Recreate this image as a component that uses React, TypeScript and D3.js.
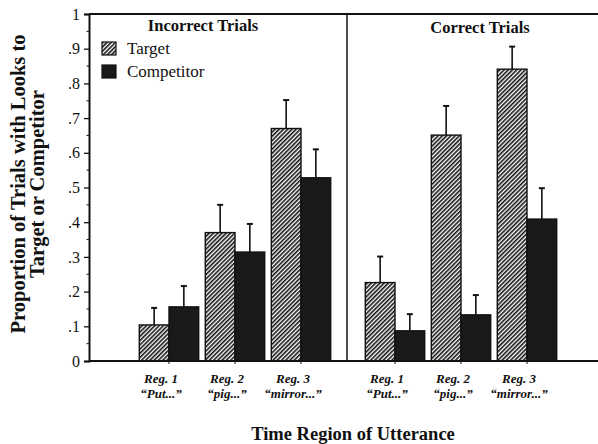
import { useEffect, useRef } from "react";
import * as d3 from "d3";

const regions = ["Reg. 1", "Reg. 2", "Reg. 3"];
const cues = ["\u201cPut...\u201d", "\u201cpig...\u201d", "\u201cmirror...\u201d"];
const panels = ["Incorrect Trials", "Correct Trials"];
const seriesNames = ["Target", "Competitor"];

const incorrectTarget = [0.104, 0.37, 0.67];
const incorrectTargetErr = [0.049, 0.08, 0.082];
const incorrectCompetitor = [0.156, 0.314, 0.528];
const incorrectCompetitorErr = [0.06, 0.081, 0.082];
const correctTarget = [0.226, 0.651, 0.841];
const correctTargetErr = [0.075, 0.084, 0.065];
const correctCompetitor = [0.087, 0.133, 0.409];
const correctCompetitorErr = [0.048, 0.057, 0.089];

const yTicks = [0, 0.1, 0.2, 0.3, 0.4, 0.5, 0.6, 0.7, 0.8, 0.9, 1];

const W = 598;
const H = 444;
const FONT = "'Liberation Serif', 'Times New Roman', serif";

export default function App() {
  const svgRef = useRef<SVGSVGElement>(null);

  useEffect(() => {
    if (!svgRef.current) return;
    const svg = d3.select(svgRef.current);
    svg.selectAll("*").remove();

    const top = 14;
    const bottom = 361;
    const left = 89;
    const divider = 347;

    const y = d3.scaleLinear().domain([0, 1]).range([bottom, top]);

    // hatch pattern for Target
    const defs = svg.append("defs");
    const pat = defs
      .append("pattern")
      .attr("id", "hatch")
      .attr("patternUnits", "userSpaceOnUse")
      .attr("width", 3)
      .attr("height", 3)
      .attr("patternTransform", "rotate(45)");
    pat.append("rect").attr("width", 3).attr("height", 3).attr("fill", "#fff");
    pat
      .append("line")
      .attr("x1", 0.8)
      .attr("y1", 0)
      .attr("x2", 0.8)
      .attr("y2", 3)
      .attr("stroke", "#111")
      .attr("stroke-width", 1.6);

    const panelData = [
      {
        title: panels[0],
        range: [136, 334] as [number, number],
        titleX: 203,
        titleY: 31,
        values: [incorrectTarget, incorrectCompetitor],
        errs: [incorrectTargetErr, incorrectCompetitorErr],
      },
      {
        title: panels[1],
        range: [362, 560] as [number, number],
        titleX: 480,
        titleY: 33,
        values: [correctTarget, correctCompetitor],
        errs: [correctTargetErr, correctCompetitorErr],
      },
    ];

    panelData.forEach((p) => {
      const x0 = d3.scaleBand<string>().domain(regions).range(p.range).paddingInner(0.1).paddingOuter(0.05);
      const x1 = d3.scaleBand<string>().domain(seriesNames).range([0, x0.bandwidth()]);

      regions.forEach((r, i) => {
        seriesNames.forEach((s, si) => {
          const v = p.values[si][i];
          const e = p.errs[si][i];
          const bx = x0(r)! + x1(s)!;
          const cx = bx + x1.bandwidth() / 2;
          // error bar (upper only)
          svg
            .append("line")
            .attr("x1", cx)
            .attr("x2", cx)
            .attr("y1", y(v))
            .attr("y2", y(v + e))
            .attr("stroke", "#111")
            .attr("stroke-width", 1.6);
          svg
            .append("line")
            .attr("x1", cx - 3)
            .attr("x2", cx + 3)
            .attr("y1", y(v + e))
            .attr("y2", y(v + e))
            .attr("stroke", "#111")
            .attr("stroke-width", 2);
          svg
            .append("rect")
            .attr("x", bx)
            .attr("y", y(v))
            .attr("width", x1.bandwidth())
            .attr("height", y(0) - y(v))
            .attr("fill", si === 0 ? "url(#hatch)" : "#1a1a1a")
            .attr("stroke", "#111")
            .attr("stroke-width", 1.4);
        });

        const gc = x0(r)! + x0.bandwidth() / 2;
        // small tick below baseline
        svg
          .append("line")
          .attr("x1", gc)
          .attr("x2", gc)
          .attr("y1", bottom)
          .attr("y2", bottom + 3)
          .attr("stroke", "#111")
          .attr("stroke-width", 1);

        svg
          .append("text")
          .attr("x", gc - 8)
          .attr("y", 383)
          .attr("text-anchor", "middle")
          .attr("font-family", FONT)
          .attr("font-style", "italic")
          .attr("font-weight", "bold")
          .attr("font-size", 13)
          .attr("fill", "#111")
          .text(r);
        svg
          .append("text")
          .attr("x", gc - 8)
          .attr("y", 398)
          .attr("text-anchor", "middle")
          .attr("font-family", FONT)
          .attr("font-style", "italic")
          .attr("font-weight", "bold")
          .attr("font-size", 13)
          .attr("fill", "#111")
          .text(cues[i]);
      });

      svg
        .append("text")
        .attr("x", p.titleX)
        .attr("y", p.titleY)
        .attr("text-anchor", "middle")
        .attr("font-family", FONT)
        .attr("font-weight", "bold")
        .attr("font-size", 16.5)
        .attr("fill", "#111")
        .text(p.title);
    });

    // frame: top line, baseline, divider
    svg
      .append("line")
      .attr("x1", left)
      .attr("x2", W)
      .attr("y1", top)
      .attr("y2", top)
      .attr("stroke", "#111")
      .attr("stroke-width", 2);
    svg
      .append("line")
      .attr("x1", left)
      .attr("x2", W)
      .attr("y1", bottom)
      .attr("y2", bottom)
      .attr("stroke", "#111")
      .attr("stroke-width", 2);
    svg
      .append("line")
      .attr("x1", divider)
      .attr("x2", divider)
      .attr("y1", top)
      .attr("y2", bottom)
      .attr("stroke", "#111")
      .attr("stroke-width", 1.5);

    // y axis
    const axis = svg
      .append("g")
      .attr("transform", `translate(${left},0)`)
      .call(
        d3
          .axisLeft(y)
          .tickValues(yTicks)
          .tickSize(5)
          .tickPadding(4)
          .tickFormat((d) => {
            const v = +d;
            if (v === 0) return "0";
            if (v === 1) return "1";
            return "." + Math.round(v * 10);
          })
      );
    axis.attr("font-family", null);
    axis.select(".domain").attr("stroke", "#111").attr("stroke-width", 2);
    axis.selectAll(".tick line").attr("stroke", "#111").attr("stroke-width", 1.3);
    axis
      .selectAll(".tick text")
      .attr("font-family", FONT)
      .attr("font-size", 16)
      .attr("fill", "#111");
    // minor ticks
    svg
      .append("g")
      .selectAll("line")
      .data(d3.range(0.05, 1, 0.1))
      .join("line")
      .attr("x1", left - 2.5)
      .attr("x2", left)
      .attr("y1", (d) => y(d))
      .attr("y2", (d) => y(d))
      .attr("stroke", "#111")
      .attr("stroke-width", 1);

    // legend
    const legend = svg.append("g").attr("transform", "translate(102,42)");
    seriesNames.forEach((s, i) => {
      legend
        .append("rect")
        .attr("x", 0)
        .attr("y", i * 23)
        .attr("width", 14)
        .attr("height", 13)
        .attr("fill", i === 0 ? "url(#hatch)" : "#1a1a1a")
        .attr("stroke", "#111")
        .attr("stroke-width", 1.2);
      legend
        .append("text")
        .attr("x", 25)
        .attr("y", i * 23 + 12)
        .attr("font-family", FONT)
        .attr("font-size", 17)
        .attr("fill", "#111")
        .text(s);
    });

    // y axis title
    const yTitle = svg
      .append("text")
      .attr("transform", "translate(0,184) rotate(-90)")
      .attr("text-anchor", "middle")
      .attr("font-family", FONT)
      .attr("font-weight", "bold")
      .attr("font-size", 20.5)
      .attr("fill", "#111");
    yTitle.append("tspan").attr("x", 0).attr("y", 25).text("Proportion of Trials with Looks to");
    yTitle.append("tspan").attr("x", 0).attr("y", 44).text("Target or Competitor");

    // x axis title
    svg
      .append("text")
      .attr("x", 353)
      .attr("y", 440)
      .attr("text-anchor", "middle")
      .attr("font-family", FONT)
      .attr("font-weight", "bold")
      .attr("font-size", 18.5)
      .attr("fill", "#111")
      .text("Time Region of Utterance");
  }, []);

  return (
    <div style={{ position: "absolute", left: 0, top: 0 }}>
      <svg ref={svgRef} width={W} height={H} style={{ display: "block", background: "#fff" }} />
    </div>
  );
}
